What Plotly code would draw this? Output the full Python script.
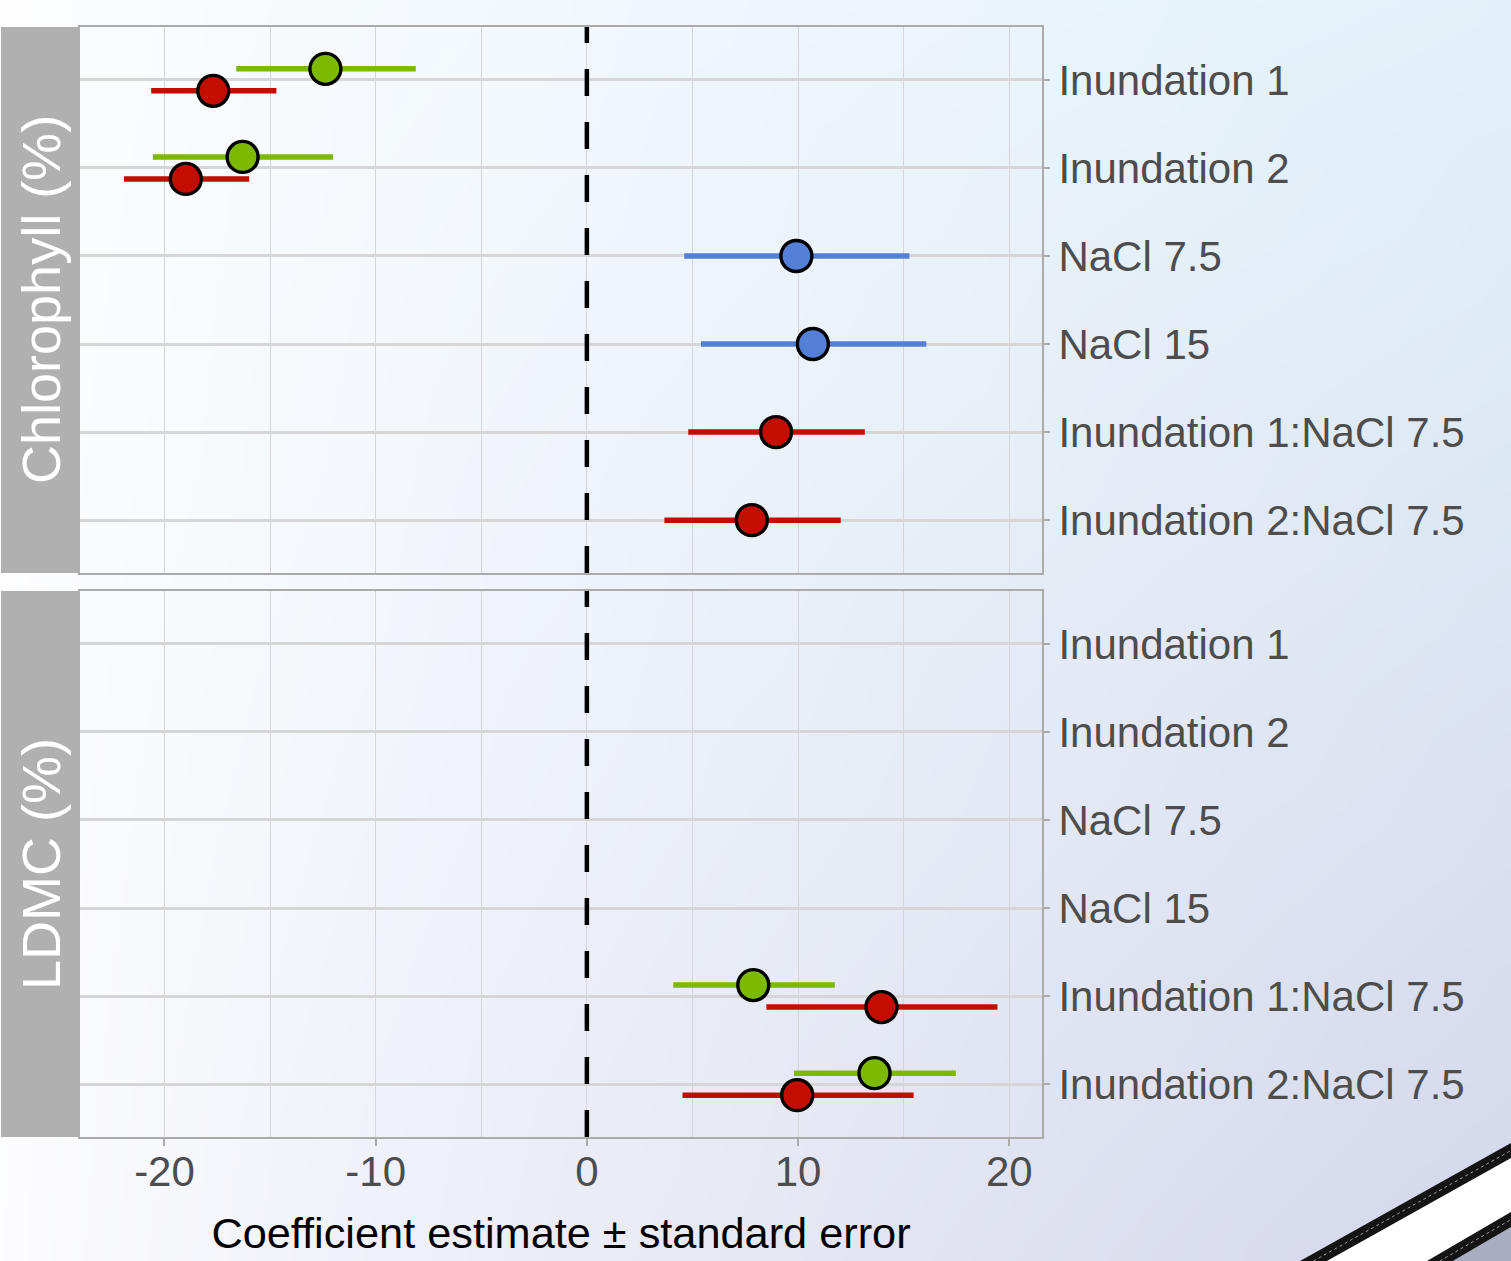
import base64, struct, zlib
import numpy as np
import plotly.graph_objects as go

# ---------------- data ----------------
categories = ["Inundation 1", "Inundation 2", "NaCl 7.5", "NaCl 15",
              "Inundation 1:NaCl 7.5", "Inundation 2:NaCl 7.5"]
panels = ["Chlorophyll (%)", "LDMC (%)"]
x_ticks = [-20, -10, 0, 10, 20]
x_tick_labels = ["-20", "-10", "0", "10", "20"]

# Chlorophyll panel
chl_green_terms = ["Inundation 1", "Inundation 2"]
chl_green_est = [-12.38, -16.30]
chl_green_lo = [-16.60, -20.55]
chl_green_hi = [-8.10, -12.02]

chl_red_terms = ["Inundation 1", "Inundation 2", "Inundation 1:NaCl 7.5", "Inundation 2:NaCl 7.5"]
chl_red_est = [-17.69, -18.99, 8.96, 7.81]
chl_red_lo = [-20.63, -21.92, 4.80, 3.67]
chl_red_hi = [-14.70, -15.99, 13.16, 12.02]

chl_blue_terms = ["NaCl 7.5", "NaCl 15"]
chl_blue_est = [9.92, 10.70]
chl_blue_lo = [4.61, 5.40]
chl_blue_hi = [15.27, 16.07]

# LDMC panel
ldmc_green_terms = ["Inundation 1:NaCl 7.5", "Inundation 2:NaCl 7.5"]
ldmc_green_est = [7.88, 13.62]
ldmc_green_lo = [4.09, 9.81]
ldmc_green_hi = [11.74, 17.47]

ldmc_red_terms = ["Inundation 1:NaCl 7.5", "Inundation 2:NaCl 7.5"]
ldmc_red_est = [13.95, 9.96]
ldmc_red_lo = [8.50, 4.53]
ldmc_red_hi = [19.44, 15.47]

# ---------------- style ----------------
GREEN = "#7db900"
RED = "#c20d00"
BLUE = "#5380d6"
FONT = "Liberation Sans, Arial, sans-serif"

W, H = 1511, 1261
L, R, T, B = 80, 469, 27, 124
PW, PH = W - L - R, H - T - B
GAP = 18  # px between panels

def px2x(px):
    return (px - L) / PW

def py2y(py):
    return (H - B - py) / PH

series = {
    0: [("green", GREEN, chl_green_terms, chl_green_est, chl_green_lo, chl_green_hi),
        ("red", RED, chl_red_terms, chl_red_est, chl_red_lo, chl_red_hi),
        ("blue", BLUE, chl_blue_terms, chl_blue_est, chl_blue_lo, chl_blue_hi)],
    1: [("green", GREEN, ldmc_green_terms, ldmc_green_est, ldmc_green_lo, ldmc_green_hi),
        ("red", RED, ldmc_red_terms, ldmc_red_est, ldmc_red_lo, ldmc_red_hi)],
}

ncat = len(categories)
cat_pos = {c: ncat - i for i, c in enumerate(categories)}
DODGE = 0.25

fig = go.Figure()
for p in range(2):
    yname = "y" if p == 0 else "y2"
    xname = "x" if p == 0 else "x2"
    present = {}
    for s in series[p]:
        for t in s[2]:
            present.setdefault(t, []).append(s[0])
    for name, col, terms, est, lo, hi in series[p]:
        ys = [cat_pos[t] + (((len(present[t]) - 1) / 2 - present[t].index(name)) * DODGE)
              for t in terms]
        fig.add_trace(go.Scatter(
            x=est, y=ys, mode="markers", xaxis=xname, yaxis=yname,
            name=name, showlegend=False,
            marker=dict(size=31, color=col, line=dict(color="black", width=3.4)),
            error_x=dict(type="data", symmetric=False,
                         array=[h - e for h, e in zip(hi, est)],
                         arrayminus=[e - l for e, l in zip(est, lo)],
                         color=col, thickness=5.5, width=0),
        ))

# ---------------- background gradient image ----------------
gw, gh = 302, 252
xs = np.linspace(0, 1, gw)[None, :]
ys_ = np.linspace(0, 1, gh)[:, None]
f = xs ** 0.85 * (0.85 + 0.15 * ys_) + 0.02 * ys_
top_t = np.array([222, 239, 249], float)
bot_t = np.array([213, 216, 236], float)
target = top_t[None, None, :] * (1 - ys_[..., None]) + bot_t[None, None, :] * ys_[..., None]
white = np.array([254, 254, 255], float)
img = white[None, None, :] * (1 - f[..., None]) + target * f[..., None]
img = np.clip(img, 0, 255).astype(np.uint8)

def to_png(a):
    h, w, _ = a.shape
    raw = b"".join(b"\x00" + a[r].tobytes() for r in range(h))
    def chunk(tag, data):
        return struct.pack(">I", len(data)) + tag + data + struct.pack(">I", zlib.crc32(tag + data) & 0xffffffff)
    return (b"\x89PNG\r\n\x1a\n" + chunk(b"IHDR", struct.pack(">IIBBBBB", w, h, 8, 2, 0, 0, 0))
            + chunk(b"IDAT", zlib.compress(raw, 9)) + chunk(b"IEND", b""))

bg_uri = "data:image/png;base64," + base64.b64encode(to_png(img)).decode()

# ---------------- layout ----------------
h1 = (PH - GAP) / 2 / PH
dom_top = [1 - h1, 1]
dom_bot = [0, h1]

GRID = "#d6d6da"
LINE = "#ababab"
xcommon = dict(range=[-24.0, 21.55], showgrid=True, gridcolor=GRID, gridwidth=1.4,
               tickvals=x_ticks, ticktext=x_tick_labels, zeroline=False, showline=True,
               mirror=True, linecolor=LINE, linewidth=2,
               minor=dict(dtick=5, tick0=0, showgrid=True, gridcolor=GRID, gridwidth=1.4),
               automargin=False)
ycommon = dict(range=[0.4, ncat + 0.6], tickvals=[cat_pos[c] for c in categories],
               ticktext=categories, side="right", showgrid=True, gridcolor="#d6d6d9",
               gridwidth=3, zeroline=False, showline=True, mirror=True,
               linecolor=LINE, linewidth=2, ticks="outside", ticklen=6, tickwidth=1.5,
               tickcolor=LINE, tickfont=dict(family=FONT, size=42, color="#4d4d4d"),
               ticklabelstandoff=0, automargin=False)

fig.update_layout(
    width=W, height=H,
    margin=dict(l=L, r=R, t=T, b=B),
    paper_bgcolor="white", plot_bgcolor="rgba(0,0,0,0)",
    font=dict(family=FONT),
    xaxis=dict(xcommon, anchor="y", domain=[0, 1], showticklabels=False, ticks=""),
    xaxis2=dict(xcommon, anchor="y2", domain=[0, 1], matches="x",
                ticks="outside", ticklen=7, tickwidth=1.5, tickcolor=LINE,
                tickfont=dict(family=FONT, size=42, color="#4d4d4d"),
                ticklabelstandoff=-10,
                title=dict(text="Coefficient estimate ± standard error",
                           font=dict(family=FONT, size=43.3, color="black"), standoff=23)),
    yaxis=dict(ycommon, anchor="x", domain=dom_top),
    yaxis2=dict(ycommon, anchor="x2", domain=dom_bot),
    images=[dict(source=bg_uri, xref="paper", yref="paper", x=px2x(0), y=py2y(0),
                 sizex=W / PW, sizey=H / PH, sizing="stretch", xanchor="left",
                 yanchor="top", layer="below")],
)

shapes = []
annotations = []
for p, (yref, dom) in enumerate([("y", dom_top), ("y2", dom_bot)]):
    shapes.append(dict(type="rect", xref="paper", yref=yref + " domain",
                       x0=px2x(1), x1=px2x(80), y0=0, y1=1,
                       fillcolor="#b0b0b0", line=dict(width=0), layer="above"))
    shapes.append(dict(type="line", xref="x" if p == 0 else "x2", yref=yref + " domain",
                       x0=0, x1=0, y0=0, y1=1,
                       line=dict(color="black", width=4.5, dash="27px,26px"), layer="above"))
    annotations.append(dict(text=panels[p], xref="paper", yref="paper",
                            x=px2x(41), y=(dom[0] + dom[1]) / 2, textangle=-90,
                            showarrow=False, xanchor="center", yanchor="middle",
                            font=dict(family=FONT, size=54, color="white")))

# decorative corner stripes
def poly(pts):
    return "M " + " L ".join(f"{px2x(a)},{py2y(b)}" for a, b in pts) + " Z"

TH = 15
s1 = (H - 1143) / (W - 1300)
s2 = (H - 1212) / (W - 1427)
shapes.append(dict(type="path", xref="paper", yref="paper",
                   path=poly([(1300 + TH / s1, H), (W, 1143 + TH), (W, 1212), (1427, H)]),
                   fillcolor="white", line=dict(width=0), layer="above"))
shapes.append(dict(type="path", xref="paper", yref="paper",
                   path=poly([(1427 + TH / s2, H), (W, 1212 + TH), (W, H)]),
                   fillcolor="#a9adc2", line=dict(width=0), layer="above"))
shapes.append(dict(type="path", xref="paper", yref="paper",
                   path=poly([(1300, H), (W, 1143), (W, 1143 + TH), (1300 + TH / s1, H)]),
                   fillcolor="#141414", line=dict(width=0), layer="above"))
shapes.append(dict(type="path", xref="paper", yref="paper",
                   path=poly([(1427, H), (W, 1212), (W, 1212 + TH), (1427 + TH / s2, H)]),
                   fillcolor="#141414", line=dict(width=0), layer="above"))
for yr, bx, s in [(1143 + TH / 2, 1300, s1), (1212 + TH / 2, 1427, s2)]:
    shapes.append(dict(type="line", xref="paper", yref="paper",
                       x0=px2x(bx + TH / 2 / s), y0=py2y(H), x1=px2x(W), y1=py2y(yr),
                       line=dict(color="rgba(190,190,190,0.8)", width=1, dash="dot"),
                       layer="above"))

fig.update_layout(shapes=shapes, annotations=annotations)
fig.write_html("out.html", config={"displayModeBar": False},
               post_script="document.body.style.margin='0';")
